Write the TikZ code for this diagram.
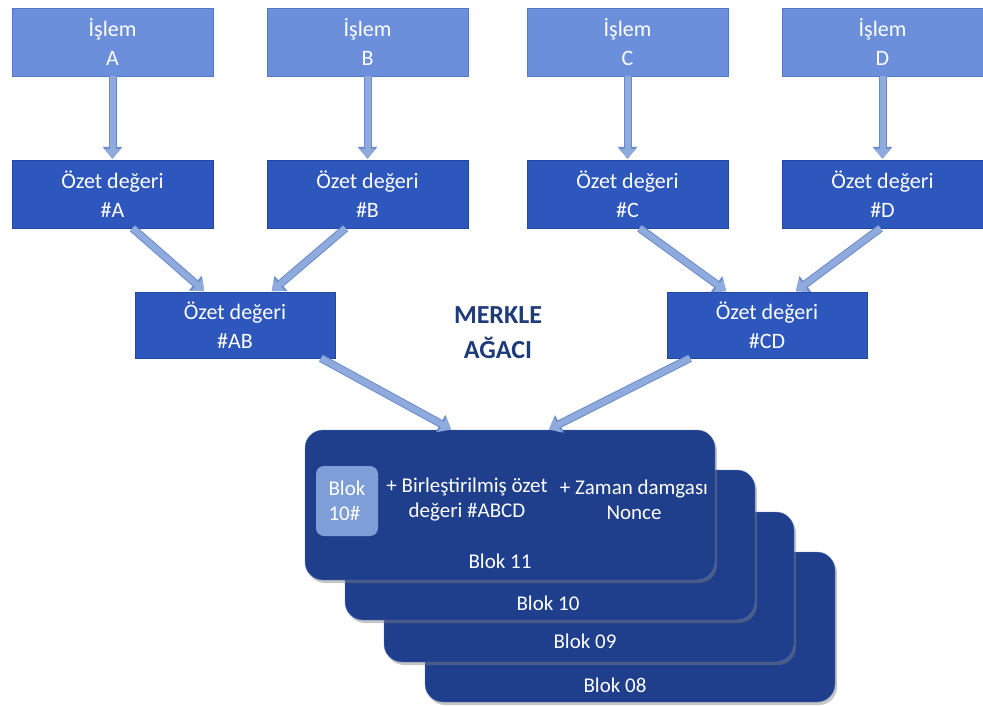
\documentclass[tikz,border=0pt]{standalone}
\usepackage{fontspec}
\setmainfont{Carlito}
\usetikzlibrary{arrows.meta,shadows}
\definecolor{islemblue}{HTML}{6C8FDB}
\definecolor{islemline}{HTML}{5677C4}
\definecolor{ozetblue}{HTML}{2D57BC}
\definecolor{ozetline}{HTML}{22479E}
\definecolor{blokblue}{HTML}{1F3F8C}
\definecolor{blokline}{HTML}{5B7BC0}
\definecolor{hashblue}{HTML}{7E9ED8}
\definecolor{arrowfill}{HTML}{8FAADC}
\definecolor{arrowline}{HTML}{6A8BCB}
\definecolor{merkle}{HTML}{1F3A78}

\begin{document}
\begin{tikzpicture}[x=1pt,y=-1pt,every node/.style={font=\fontsize{22}{29}\selectfont,text=white,align=center,inner sep=0pt},
   islem/.style={draw=islemline,fill=islemblue,minimum width=201pt,minimum height=68pt},
   ozet/.style={draw=ozetline,fill=ozetblue,minimum width=201pt,minimum height=68pt},
   blok/.style={draw=blokline,fill=blokblue,rounded corners=18pt,minimum width=410pt,minimum height=150pt,
     drop shadow={shadow xshift=2pt,shadow yshift=-3pt,opacity=.45}},
   bloktext/.style={font=\fontsize{21}{25}\selectfont},
   flow/.style={line width=6pt,draw=arrowfill,-{Triangle[length=10pt,width=16pt]},shorten >=1pt,
     preaction={draw=arrowline,line width=8pt,-{Triangle[length=12pt,width=19pt]}}}]
  \useasboundingbox (0,0) rectangle (983,706);
  % transactions
  \node[islem](islA) at (112.5,42){İşlem\\A};
  \node[islem](islB) at (367.5,42){İşlem\\B};
  \node[islem](islC) at (627.5,42){İşlem\\C};
  \node[islem](islD) at (882.5,42){İşlem\\D};
  % hashes
  \node[ozet](ozA) at (112.5,194){Özet değeri\\\#A};
  \node[ozet](ozB) at (367.5,194){Özet değeri\\\#B};
  \node[ozet](ozC) at (627.5,194){Özet değeri\\\#C};
  \node[ozet](ozD) at (882.5,194){Özet değeri\\\#D};
  \node[ozet,minimum width=200pt,minimum height=66pt](ozAB) at (235,325){Özet değeri\\\#AB};
  \node[ozet,minimum width=200pt,minimum height=66pt](ozCD) at (767,325){Özet değeri\\\#CD};
  \node[text=merkle,font=\bfseries\fontsize{26}{35}\selectfont](title) at (498,333){MERKLE\\AĞACI};
  % chain of blocks
  \node[blok](blk08) at (630,627){};
  \node[blok](blk09) at (589,587){};
  \node[blok](blk10) at (550,545){};
  \node[blok](blk11) at (510,505){};
  \node[bloktext](l08) at ([xshift=-15pt,yshift=17pt]blk08.south){Blok 08};
  \node[bloktext](l09) at ([xshift=-4pt,yshift=21pt]blk09.south){Blok 09};
  \node[bloktext](l10) at ([xshift=-2pt,yshift=17pt]blk10.south){Blok 10};
  \node[bloktext](l11) at ([xshift=-10pt,yshift=19pt]blk11.south){Blok 11};
  \node[fill=hashblue,rounded corners=8pt,minimum width=62pt,minimum height=70pt,bloktext,align=left](prev) at (347,501){Blok\\10\#};
  \node[bloktext](merk) at (467,500){+ Birleştirilmiş özet\\değeri \#ABCD};
  \node[bloktext](time) at (634,500){+ Zaman damgası\\Nonce};
  % arrows
  \foreach \n in {A,B,C,D}\draw[flow](isl\n)--(oz\n);
  \draw[flow]([xshift=20pt]ozA.south)--([xshift=-30pt]ozAB.north);
  \draw[flow]([xshift=-22pt]ozB.south)--([xshift=36pt]ozAB.north);
  \draw[flow]([xshift=12pt]ozC.south)--([xshift=-40pt]ozCD.north);
  \draw[flow]([xshift=-2pt]ozD.south)--([xshift=28pt]ozCD.north);
  \draw[flow]([xshift=86pt]ozAB.south)--([xshift=-58pt]blk11.north);
  \draw[flow]([xshift=-77pt]ozCD.south)--([xshift=38pt]blk11.north);
\end{tikzpicture}
\end{document}
